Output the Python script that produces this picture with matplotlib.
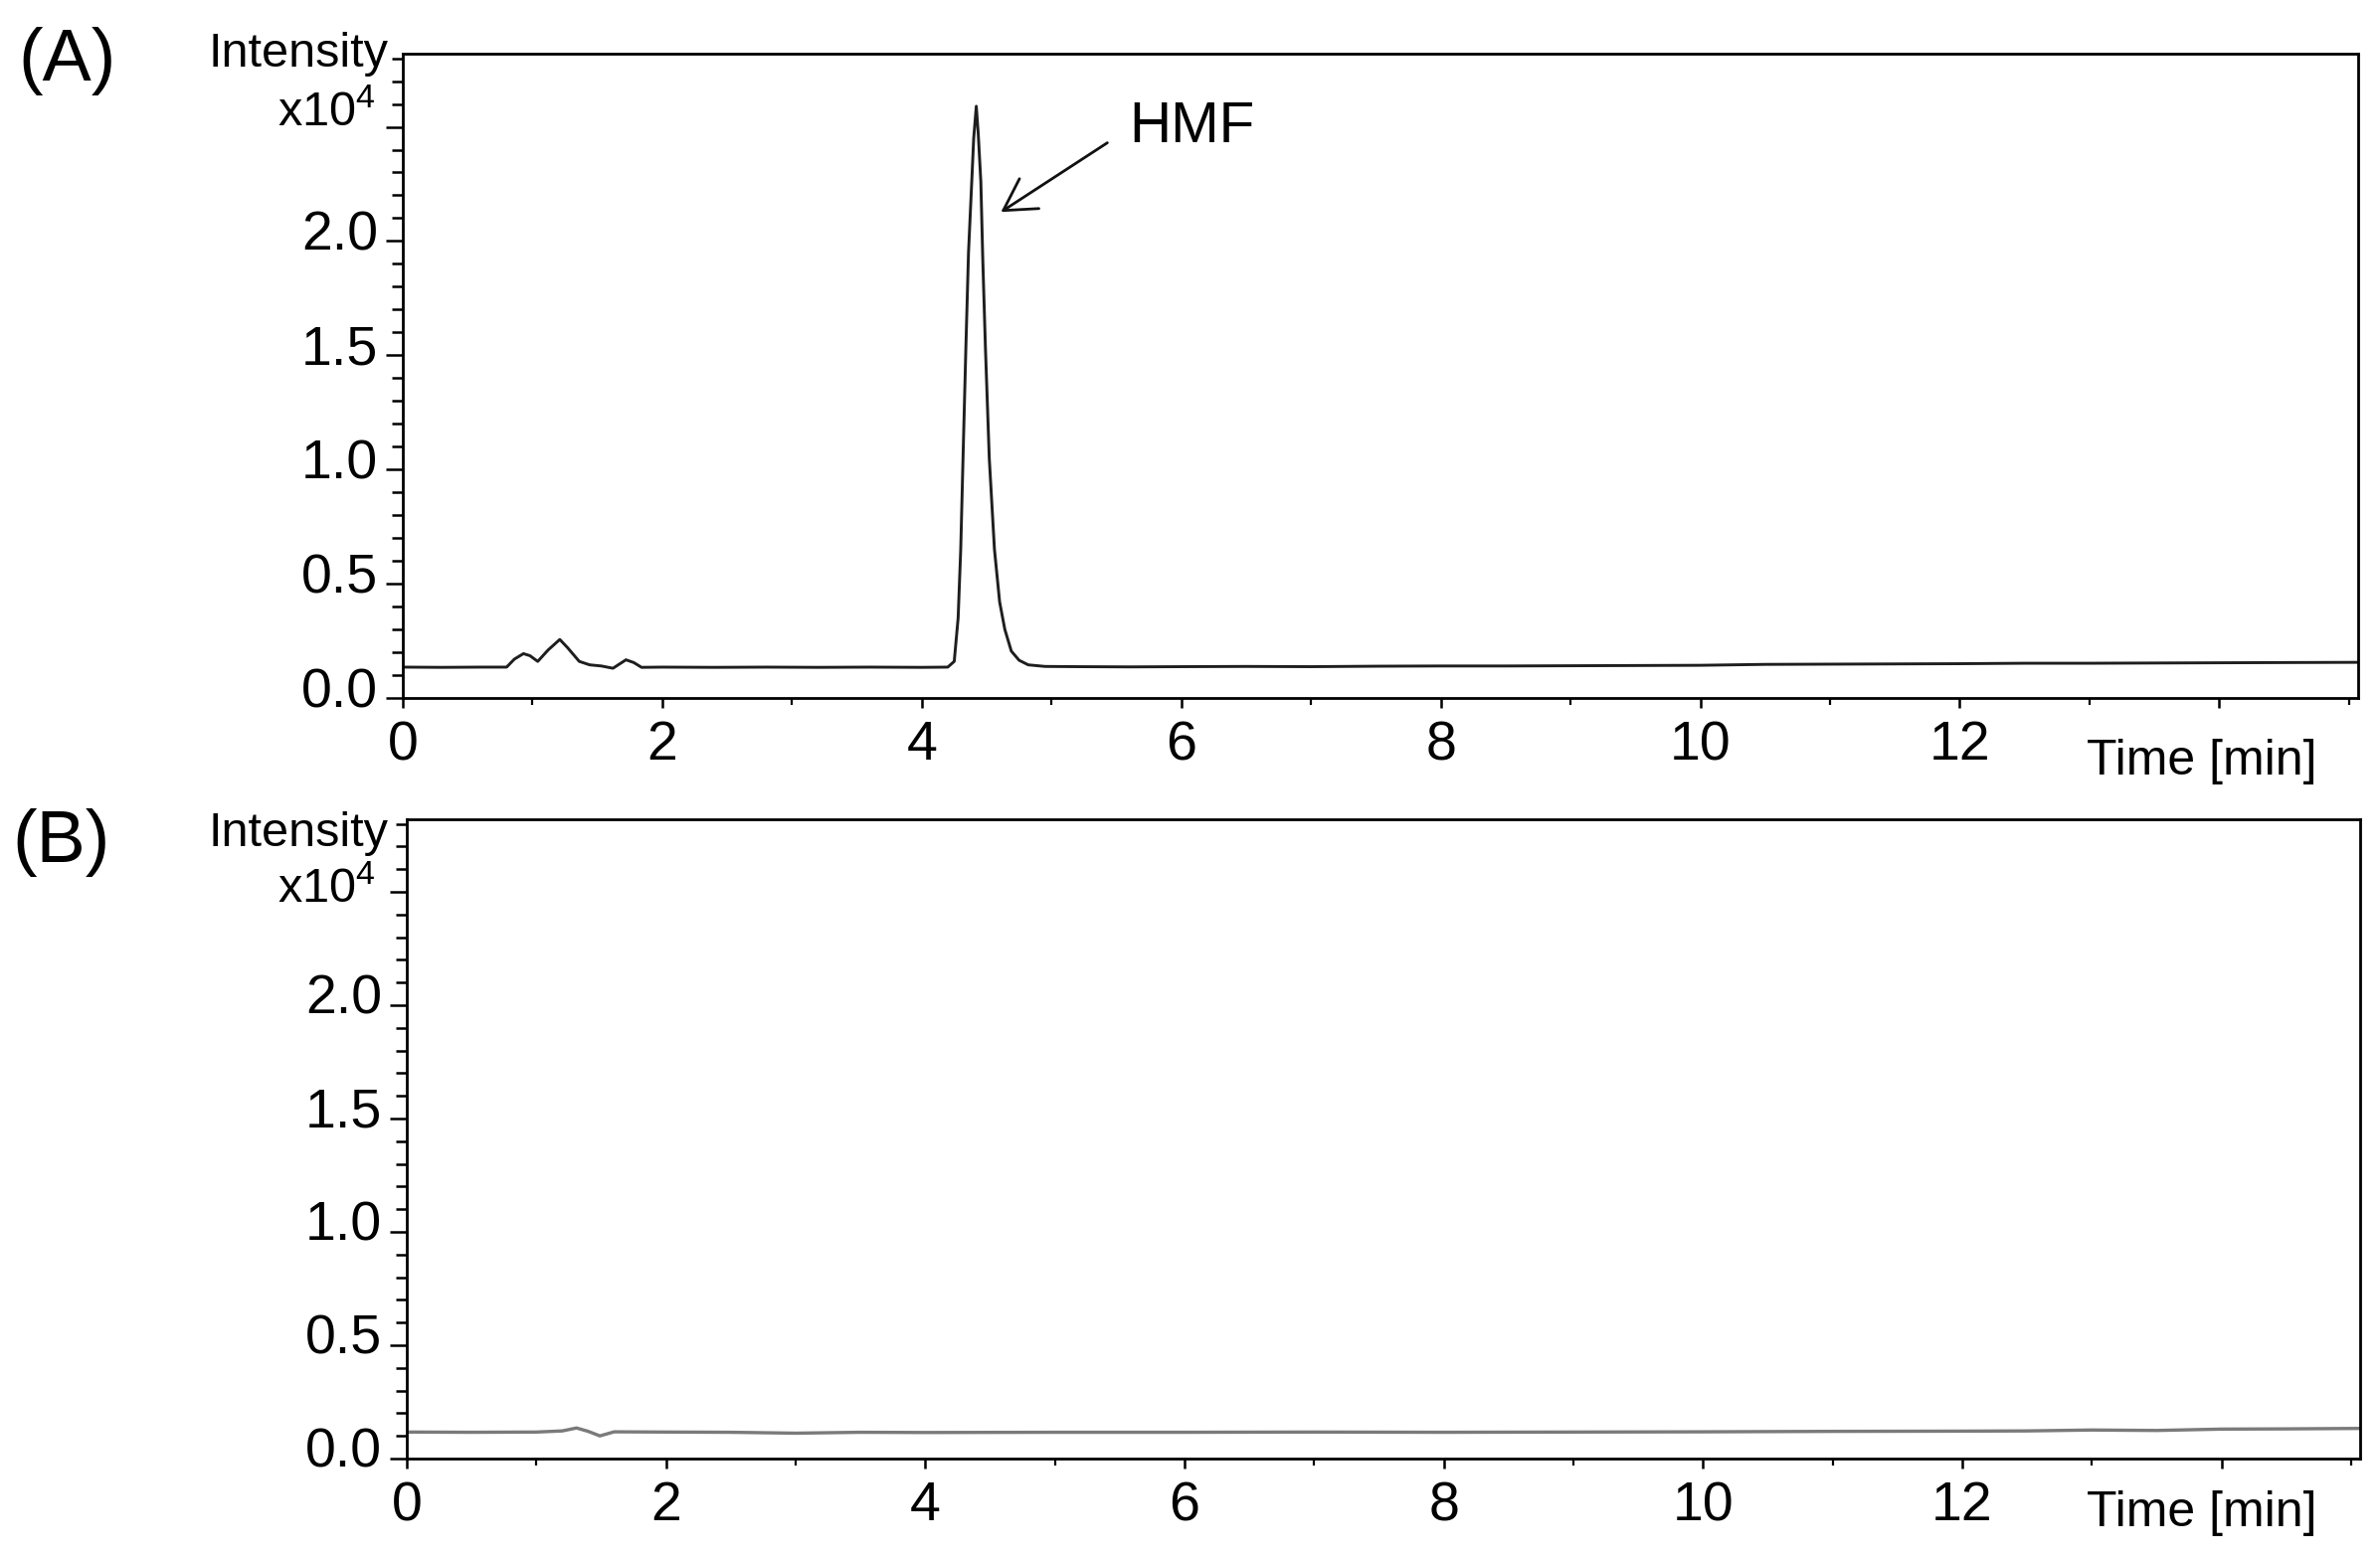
#!/usr/bin/env python3
"""HPLC chromatograms: (A) sample with HMF peak, (B) blank."""

import matplotlib
matplotlib.use("Agg")
import matplotlib.pyplot as plt
from matplotlib.ticker import MultipleLocator, FixedLocator, FixedFormatter
from matplotlib.transforms import ScaledTranslation

plt.rcParams["font.family"] = ["Liberation Sans", "DejaVu Sans"]
plt.rcParams["mathtext.fontset"] = "custom"
plt.rcParams["mathtext.rm"] = "Liberation Sans"

# trace A (time in min, intensity in x10^4)
time_a = [0.0, 0.3, 0.6, 0.8, 0.86, 0.93, 0.98, 1.04, 1.12, 1.21, 1.27, 1.36, 1.44,
          1.53, 1.62, 1.72, 1.78, 1.84, 2.0, 2.4, 2.8, 3.2, 3.6, 4.0, 4.2,
          4.25, 4.28, 4.30, 4.32, 4.34, 4.36, 4.385, 4.40, 4.42, 4.435, 4.455,
          4.47, 4.49, 4.52, 4.56, 4.60, 4.64, 4.69, 4.75, 4.82, 4.95, 5.2,
          5.6, 6.0, 6.5, 7.0, 7.5, 8.0, 8.5, 9.0, 9.5, 10.0, 10.5, 11.0, 11.5,
          12.0, 12.5, 13.0, 13.5, 14.0, 14.5, 15.07]
intensity_a = [0.135, 0.134, 0.135, 0.135, 0.17, 0.194, 0.185, 0.16, 0.21, 0.256, 0.22,
               0.16, 0.145, 0.14, 0.13, 0.167, 0.155, 0.134, 0.135, 0.134, 0.135,
               0.134, 0.135, 0.134, 0.135,
               0.16, 0.35, 0.65, 1.10, 1.54, 1.95, 2.26, 2.45, 2.59, 2.47, 2.26,
               1.92, 1.54, 1.05, 0.65, 0.42, 0.30, 0.205, 0.165, 0.145, 0.138, 0.137,
               0.136, 0.137, 0.138, 0.137, 0.139, 0.140, 0.140, 0.141, 0.142, 0.143,
               0.147, 0.148, 0.149, 0.150, 0.152, 0.152, 0.153, 0.154, 0.155, 0.156]

# trace B (blank)
time_b = [0.0, 0.5, 1.0, 1.2, 1.31, 1.4, 1.49, 1.6, 2.0, 2.5, 3.0, 3.5, 4.0, 5.0,
          6.0, 7.0, 8.0, 9.0, 10.0, 11.0, 12.0, 12.5, 13.0, 13.5, 14.0, 14.5, 15.07]
intensity_b = [0.117, 0.116, 0.117, 0.122, 0.135, 0.12, 0.10, 0.118, 0.117, 0.116,
               0.112, 0.116, 0.115, 0.116, 0.116, 0.117, 0.116, 0.117, 0.118, 0.120,
               0.121, 0.122, 0.126, 0.124, 0.130, 0.131, 0.133]

y_ticks = [0.0, 0.5, 1.0, 1.5, 2.0, 2.5]
y_labels = ["0.0", "0.5", "1.0", "1.5", "2.0", ""]
x_ticks = [0, 2, 4, 6, 8, 10, 12, 14]
x_labels = ["0", "2", "4", "6", "8", "10", "12", ""]

W, H = 2393, 1567
fig = plt.figure(figsize=(W / 100, H / 100), dpi=100)

ax_a = fig.add_axes([405 / W, 1 - 702 / H, (2371 - 405) / W, 648 / H])
ax_b = fig.add_axes([409 / W, 1 - 1467 / H, (2373 - 409) / W, 643 / H])

ax_a.plot(time_a, intensity_a, color="#1e1e1e", lw=2.1)
ax_b.plot(time_b, intensity_b, color="#7a7a7a", lw=2.4)

for ax in (ax_a, ax_b):
    ax.set_xlim(0, 15.07)
    ax.set_ylim(0, 2.82)
    ax.yaxis.set_major_locator(FixedLocator(y_ticks))
    ax.yaxis.set_major_formatter(FixedFormatter(y_labels))
    ax.yaxis.set_minor_locator(MultipleLocator(0.1))
    ax.xaxis.set_major_locator(FixedLocator(x_ticks))
    ax.xaxis.set_major_formatter(FixedFormatter(x_labels))
    ax.xaxis.set_minor_locator(MultipleLocator(1))
    ax.tick_params(axis="y", which="major", length=12, width=1.8, pad=6, labelsize=40)
    ax.tick_params(axis="y", which="minor", length=8, width=1.8)
    ax.tick_params(axis="x", which="major", length=7, width=1.8, pad=9, labelsize=40)
    ax.tick_params(axis="x", which="minor", length=5, width=1.6)
    for sp in ax.spines.values():
        sp.set_linewidth(2.0)
    shift = ScaledTranslation(0, 0.11, fig.dpi_scale_trans)
    for lab in ax.get_yticklabels():
        lab.set_transform(lab.get_transform() + shift)

# HMF annotation
ax_a.annotate("", xy=(4.61, 2.127), xytext=(5.43, 2.43),
              arrowprops=dict(arrowstyle="->,head_length=0.4,head_width=0.23",
                              lw=2.0, color="#111111", shrinkA=0, shrinkB=0,
                              mutation_scale=56))
ax_a.text(5.60, 2.50, "HMF", fontsize=42, ha="left", va="center")

# axis captions
for y_int, y_exp, y_time in ((67, 114, 766), (851, 895, 1522)):
    fig.text(391 / W, 1 - y_int / H, "Intensity", fontsize=35, ha="right", va="baseline")
    fig.text(378 / W, 1 - y_exp / H, r"x10$\mathregular{^4}$", fontsize=35,
             ha="right", va="center")
    fig.text(2214 / W, 1 - y_time / H, "Time [min]", fontsize=36, ha="center", va="center")

fig.text(18 / W, 1 - 61 / H, "(A)", fontsize=53, ha="left", va="center")
fig.text(12 / W, 1 - 848 / H, "(B)", fontsize=53, ha="left", va="center")

fig.savefig("out.png", dpi=100)
